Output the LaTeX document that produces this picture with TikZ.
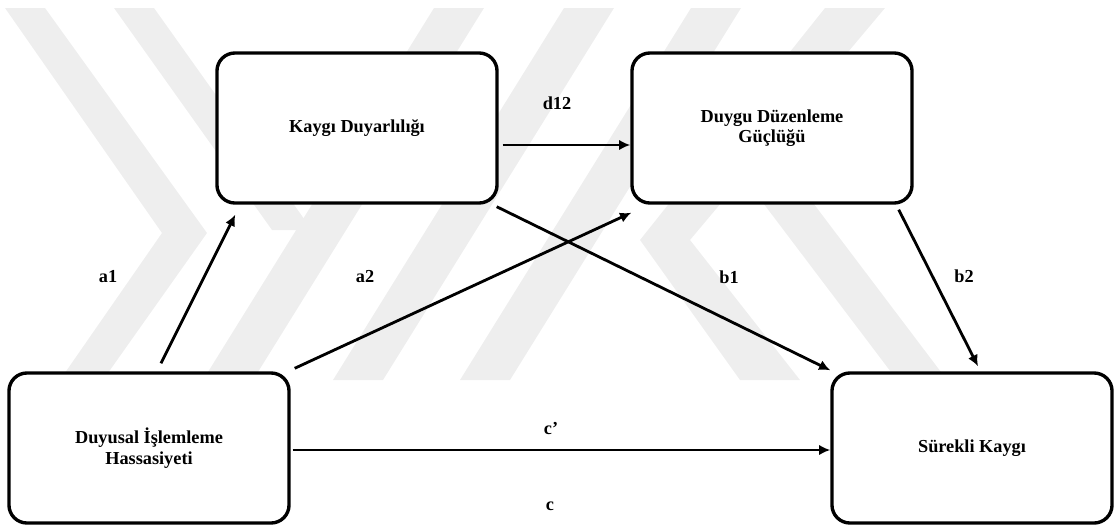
\documentclass[tikz,border=0pt]{standalone}
\usepackage{fontspec}
\setmainfont{Liberation Serif}
\usetikzlibrary{positioning, calc, arrows.meta}
\definecolor{Ink}{HTML}{000000}
\definecolor{Mark}{HTML}{EEEEEE}
\definecolor{Paper}{HTML}{FFFFFF}
\tikzset{
    varbox/.style={rectangle, rounded corners=0.45cm, draw=Ink, fill=Paper, line width=2.4pt, minimum width=7cm, minimum height=3.75cm, align=center, font=\bfseries\fontsize{13}{14.5}\selectfont},
    pathlabel/.style={font=\bfseries\fontsize{13}{14.5}\selectfont, text=Ink},
    arrow/.style={-{Latex[length=8pt, width=7.5pt]}, line width=2pt, color=Ink},
    band/.style={fill=Mark, draw=none},
}

\begin{document}
\begin{tikzpicture}[x=0.025cm, y=-0.025cm]
    \useasboundingbox (0,0) rectangle (1117,526);

    % Watermark
    \begin{scope}
        \clip (0,8) rectangle (1117,380);
        \fill[band] (5,8) -- (45,8) -- (207,233) -- (103,380) -- (60,380) -- (162,233) -- cycle;
        \fill[band] (114,8) -- (154,8) -- (312,230) -- (272,230) -- cycle;
        \foreach \bx/\tx in {203/434, 333/564, 460/691}
            \fill[band] (\bx,380) -- (\bx+50,380) -- (\tx+50,8) -- (\tx,8) -- cycle;
        \fill[band] (825,8) -- (885,8) -- (690,240) -- (800,380) -- (740,380) -- (640,240) -- cycle;
        \fill[band] (723,150) -- (773,150) -- (947,380) -- (897,380) -- cycle;
    \end{scope}

    % Variables
    \node[varbox] (dih) at (149,448) {Duyusal İşlemleme\\Hassasiyeti};
    \node[varbox] (kd) at (357,128) {Kaygı Duyarlılığı};
    \node[varbox] (ddg) at (772,128) {Duygu Düzenleme\\Güçlüğü};
    \node[varbox] (sk) at (972,448) {Sürekli Kaygı};

    % Paths
    \draw[arrow] ($(dih.north)+(12,-8)$) -- ($(kd.south west)+(20,10)$);
    \draw[arrow] ($(dih.north east)+(4,-3)$) -- ($(ddg.south west)+(1,8)$);
    \draw[arrow] ($(kd.east)+(4,17)$) -- ($(ddg.west)+(0,17)$);
    \draw[arrow] ($(kd.south east)+(-2,2)$) -- ($(sk.north west)+(0,-1)$);
    \draw[arrow] ($(ddg.south east)+(-15,5)$) -- ($(sk.north)+(6,-5)$);
    \draw[arrow] ($(dih.east)+(2,2)$) -- ($(sk.west)+(0,2)$);

    % Labels
    \foreach \x/\y/\n/\t in {108/277/la1/a1, 365/277/la2/a2, 729/277/lb1/b1, 964/276/lb2/b2, 557/103/ld12/d12, 551/428/lcp/c', 550/506/lc/c}
        \node[pathlabel] (\n) at (\x,\y) {\t};
\end{tikzpicture}
\end{document}
